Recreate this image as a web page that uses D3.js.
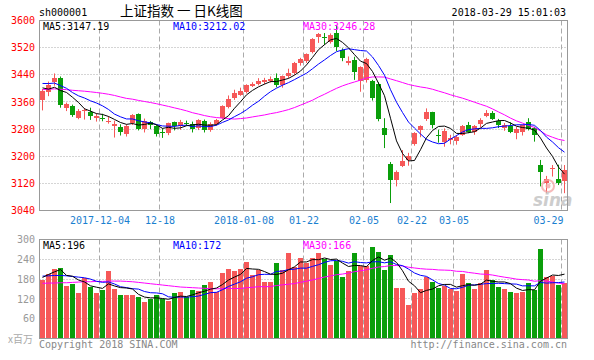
<!DOCTYPE html>
<html><head><meta charset="utf-8">
<script src="https://cdn.jsdelivr.net/npm/d3@7"></script>
<style>body{margin:0;background:#fff}svg{display:block}</style>
</head><body>
<svg id="c" width="594" height="360"></svg>
<script>
const dates = ["2017-11-20","2017-11-21","2017-11-22","2017-11-23","2017-11-24","2017-11-27","2017-11-28","2017-11-29","2017-11-30",
"2017-12-01","2017-12-04","2017-12-05","2017-12-06","2017-12-07","2017-12-08","2017-12-11","2017-12-12","2017-12-13","2017-12-14","2017-12-15",
"2017-12-18","2017-12-19","2017-12-20","2017-12-21","2017-12-22","2017-12-25","2017-12-26","2017-12-27","2017-12-28","2017-12-29",
"2018-01-02","2018-01-03","2018-01-04","2018-01-05","2018-01-08","2018-01-09","2018-01-10","2018-01-11","2018-01-12","2018-01-15",
"2018-01-16","2018-01-17","2018-01-18","2018-01-19","2018-01-22","2018-01-23","2018-01-24","2018-01-25","2018-01-26","2018-01-29",
"2018-01-30","2018-01-31","2018-02-01","2018-02-02","2018-02-05","2018-02-06","2018-02-07","2018-02-08","2018-02-09","2018-02-12",
"2018-02-13","2018-02-14","2018-02-22","2018-02-23","2018-02-26","2018-02-27","2018-02-28","2018-03-01","2018-03-02","2018-03-05",
"2018-03-06","2018-03-07","2018-03-08","2018-03-09","2018-03-12","2018-03-13","2018-03-14","2018-03-15","2018-03-16","2018-03-19",
"2018-03-20","2018-03-21","2018-03-22","2018-03-23","2018-03-26","2018-03-27","2018-03-28","2018-03-29"];

const open = [3366,3388,3419,3430,3341,3349,3314,3334,3329,3314, 3312,3300,3289,3287,3265,3297,3324,3280,3300,3289,
3270,3268,3300,3290,3299,3296,3282,3304,3277,3294, 3312,3346,3373,3381,3390,3408,3414,3418,3421,3430,
3410,3437,3446,3474,3480,3508,3552,3552,3538,3563, 3513,3475,3484,3422,3425,3422,3414,3282,3177,3129,
3172,3189,3235,3277,3309,3329,3262,3243,3248,3245, 3263,3291,3272,3294,3320,3327,3303,3282,3290,3268,
3270,3300,3282,3174,3120,3163,3132,3128];
const high = [3398,3420,3444,3435,3358,3352,3339,3342,3343,3326, 3325,3318,3305,3294,3294,3324,3326,3311,3304,3292,
3282,3299,3302,3307,3305,3302,3309,3308,3300,3310, 3350,3379,3396,3402,3412,3418,3430,3431,3435,3444,
3438,3458,3478,3490,3503,3548,3563,3563,3562,3587, 3518,3494,3493,3465,3490,3425,3418,3312,3183,3158,
3218,3210,3271,3291,3341,3331,3278,3282,3263,3262, 3292,3301,3292,3312,3336,3333,3310,3298,3300,3287,
3293,3312,3287,3189,3142,3174,3175,3174];
const low = [3335,3377,3408,3343,3333,3316,3309,3308,3307,3302, 3303,3296,3255,3261,3258,3292,3276,3270,3280,3258,
3254,3262,3276,3278,3290,3270,3277,3270,3272,3290, 3310,3341,3366,3378,3385,3404,3409,3412,3417,3403,
3402,3430,3440,3467,3475,3503,3534,3528,3532,3510, 3480,3468,3425,3390,3417,3364,3303,3224,3062,3111,
3168,3172,3231,3256,3304,3282,3240,3228,3235,3234, 3260,3268,3263,3285,3315,3307,3283,3275,3268,3250,
3261,3276,3243,3111,3091,3140,3115,3091];
const close = [3392.8,3410.5,3430.5,3351.9,3353.8,3322.2,3333.7,3337.5,3317.2,3317.6,
3309.6,3303.7,3294.0,3272.1,3290.0,3322.2,3280.8,3303.0,3292.4,3266.1,
3267.9,3296.5,3287.6,3300.1,3297.1,3280.5,3306.1,3275.8,3296.4,3307.2,
3348.3,3369.1,3385.7,3391.8,3409.5,3413.9,3421.8,3425.3,3428.9,3410.5,
3436.6,3444.7,3474.8,3487.9,3501.4,3546.5,3559.5,3548.3,3558.1,3523.0,
3488.0,3480.8,3447.0,3462.1,3487.5,3370.7,3309.3,3262.1,3129.9,3154.1,
3185.0,3199.2,3268.6,3289.0,3329.6,3292.1,3259.4,3273.8,3254.5,3256.9,
3289.6,3271.7,3288.4,3307.2,3326.7,3310.2,3291.4,3291.1,3269.9,3279.3,
3290.6,3281.0,3263.5,3152.8,3133.7,3166.7,3122.3,3160.5];

const ma5 = [3401.4,3397.6,3403.2,3393.7,3387.9,3373.8,3358.4,3339.8,3332.9,3325.6,
3323.1,3317.1,3308.4,3299.4,3293.9,3296.4,3291.8,3293.6,3297.7,3292.9,
3282.0,3285.2,3282.1,3283.6,3289.8,3292.4,3294.3,3291.9,3291.2,3293.2,
3306.8,3319.4,3341.3,3360.4,3380.9,3394.0,3404.5,3412.5,3419.9,3420.1,
3424.6,3429.2,3439.1,3450.9,3469.1,3491.1,3514.0,3528.7,3542.8,3547.1,
3535.4,3519.6,3499.4,3480.2,3473.1,3449.6,3415.3,3378.3,3311.9,3245.2,
3208.1,3186.1,3187.4,3219.2,3254.3,3275.7,3287.7,3288.8,3281.9,3267.3,
3266.8,3269.3,3272.2,3282.8,3296.7,3300.8,3304.8,3305.3,3297.9,3288.4,
3284.5,3282.4,3276.9,3253.4,3224.3,3199.5,3167.8,3147.2];
const ma10 = [3414.5,3414.1,3415.6,3408.1,3400.2,3387.6,3378.0,3371.5,3363.3,3356.8,
3348.5,3337.8,3324.1,3316.1,3309.8,3309.8,3304.5,3301.0,3298.5,3293.4,
3289.2,3288.5,3287.9,3290.7,3291.4,3287.2,3289.7,3287.0,3287.4,3291.5,
3299.6,3306.8,3316.6,3325.8,3337.0,3350.4,3362.0,3376.9,3390.2,3400.5,
3409.3,3416.9,3425.8,3435.4,3444.6,3457.8,3471.6,3483.9,3496.8,3508.1,
3513.2,3516.8,3514.1,3511.5,3510.1,3492.5,3467.5,3438.9,3396.0,3359.2,
3328.9,3300.7,3282.9,3265.5,3249.8,3241.9,3236.9,3238.1,3250.5,3260.8,
3271.3,3278.5,3280.5,3282.3,3282.0,3283.8,3287.0,3288.8,3290.3,3292.6,
3292.7,3293.6,3291.1,3275.7,3256.4,3242.0,3225.1,3212.0];
const ma30 = [3396.2,3397.1,3398.5,3397.4,3396.2,3394.3,3393.0,3391.6,3389.8,3387.7,
3385.4,3382.6,3379.1,3374.6,3370.4,3368.1,3364.4,3361.3,3358.2,3354.7,
3350.7,3346.8,3342.5,3338.3,3333.8,3328.2,3324.1,3319.8,3316.4,3313.9,
3312.4,3311.0,3309.5,3310.9,3312.7,3315.8,3318.7,3321.6,3325.4,3328.5,
3332.7,3337.4,3343.4,3350.6,3357.7,3365.1,3374.4,3382.6,3391.5,3400.0,
3407.4,3413.5,3418.8,3424.2,3430.6,3433.6,3433.7,3433.2,3427.7,3422.6,
3417.1,3411.5,3407.6,3404.1,3401.5,3397.4,3392.0,3386.9,3381.1,3376.0,
3371.1,3365.3,3359.1,3353.1,3347.3,3339.4,3330.5,3321.9,3312.3,3304.2,
3297.6,3290.9,3284.8,3274.5,3262.7,3255.9,3249.7,3246.3];

const volume = [177,194,212,215,158,164,137,183,156,137, 146,206,151,131,131,131,125,110,119,131,
121,113,137,140,125,146,144,161,172,141, 200,212,206,212,232,191,207,172,172,229,
209,260,216,245,230,245,258,242,222,236, 185,206,258,220,219,278,261,208,254,152,
152,102,139,149,187,172,152,159,150,145, 195,167,149,167,207,177,157,149,141,139,
142,169,147,272,185,189,162,167];
const volMa5 = [185,194,202,209,191.2,188.6,177.2,171.4,159.6,155.4,
151.8,165.6,159.2,154.2,153.0,150.0,133.8,125.6,123.2,123.2,
121.2,118.8,124.2,128.4,127.2,132.2,138.4,143.2,149.6,152.8,
163.6,177.2,186.2,194.2,212.4,210.6,209.6,202.8,194.8,194.2,
197.8,208.4,217.2,231.8,232.0,239.2,238.8,244.0,239.4,240.6,
228.6,218.2,221.4,221.0,217.6,236.2,247.2,237.2,244.0,230.6,
205.4,173.6,159.8,138.8,145.8,149.8,159.8,163.8,164.0,155.6,
160.2,163.2,161.2,164.6,177.0,173.4,171.4,171.4,166.2,152.6,
145.6,148.0,147.6,173.8,183.0,192.4,191.0,195.0];
const volMa10 = [189,190,191,191,190,188,186,184,180,173.3,
170.2,171.4,165.3,156.9,154.2,150.9,149.7,142.4,138.7,138.1,
135.6,126.3,124.9,125.8,125.2,126.7,128.6,133.7,139.0,140.0,
147.9,157.8,164.7,171.9,182.6,187.1,193.4,194.5,194.5,203.3,
204.2,209.0,210.0,213.3,213.1,218.5,223.6,230.6,235.6,236.3,
233.9,228.5,232.7,230.2,229.1,232.4,232.7,229.3,232.5,224.1,
220.8,210.4,198.5,191.4,188.2,177.6,166.7,161.8,151.4,150.7,
155.0,161.5,162.5,164.3,166.3,166.8,167.3,166.3,165.4,164.8,
159.5,159.7,159.5,170.0,167.8,169.0,169.5,171.3];
const volMa30 = [167,168,168,169,169,170,171,172,172,173,
173,174,174,174,173,172,170,168,166,164,
162,160,158,156,155,154,153,152,151,150.5,
151.2,151.8,151.6,151.5,154.0,154.9,157.2,156.9,157.4,160.5,
162.6,164.4,166.5,170.3,173.6,177.4,181.9,186.3,189.7,193.2,
195.3,198.4,202.5,205.1,208.3,212.7,216.6,218.1,220.9,221.2,
219.6,216.0,213.7,211.6,210.1,209.5,207.7,207.2,206.5,203.7,
203.2,200.1,197.9,195.3,194.5,192.3,188.9,185.8,183.1,179.9,
178.4,177.2,173.5,175.2,174.1,171.1,167.8,166.5];

const priceTicks = [3040,3120,3200,3280,3360,3440,3520,3600];
const volTicks = [60,120,180,240,300];
const xTickDates = ["2017-12-04","2017-12-18","2018-01-08","2018-01-22","2018-02-05","2018-02-22","2018-03-05","2018-03-29"];
const xTickLabels = ["2017-12-04","12-18","2018-01-08","01-22","02-05","02-22","03-05","03-29"];
const legendPrice = [["MA5:3147.19","#000"],["MA10:3212.02","#0000ff"],["MA30:3246.28","#ff00ff"]];
const legendVol = [["MA5:196","#000"],["MA10:172","#0000ff"],["MA30:166","#ff00ff"]];

const RED = "#f65858", GREEN = "#0a9e0a", GRID = "#aaaaaa", BORDER = "#999999";
const MONO = "'DejaVu Sans Mono', monospace";
const L = 39.5, R = 567.5;

const svg = d3.select("#c");
const x = d3.scaleBand().domain(dates).range([40, 568]).padding(0);
const yP = d3.scaleLinear().domain([3040, 3600]).range([210.5, 20.5]);
const yV = d3.scaleLinear().domain([0, 300]).range([338.5, 239.5]);
const cx = d => x(d) + 2.5;
const px = v => Math.round(v - 0.5) + 0.5;

// header
svg.append("text").attr("x", 39).attr("y", 16).attr("font-family", MONO).attr("font-size", 10).text("sh000001");
svg.append("text").attr("x", 120).attr("y", 16).attr("font-family", "'Noto Sans CJK SC', sans-serif").attr("font-size", 13.5).text("上证指数 一 日K线图");
svg.append("text").attr("x", 566).attr("y", 16).attr("text-anchor", "end").attr("font-family", MONO).attr("font-size", 10).text("2018-03-29 15:01:03");

function panel(y0, y1, hTicks, yScale) {
  const g = svg.append("g");
  g.selectAll(".h").data(hTicks).join("line")
    .attr("x1", L).attr("x2", R).attr("y1", d => px(yScale(d))).attr("y2", d => px(yScale(d)))
    .attr("stroke", GRID).attr("stroke-dasharray", "1,2");
  g.selectAll(".v").data(xTickDates).join("line")
    .attr("x1", d => x(d) - 0.5).attr("x2", d => x(d) - 0.5).attr("y1", y0).attr("y2", y1)
    .attr("stroke", GRID).attr("stroke-dasharray", "5,3");
  return g;
}
panel(20.5, 210.5, [3120,3200,3280,3360,3440,3520], yP);
panel(239.5, 338.5, [60,120,180,240], yV);

// candles
const cg = svg.append("g");
dates.forEach((d, i) => {
  const up = close[i] >= open[i];
  const col = up ? RED : GREEN;
  cg.append("line").attr("x1", cx(d)).attr("x2", cx(d))
    .attr("y1", yP(high[i])).attr("y2", yP(low[i])).attr("stroke", col);
  const yt = Math.round(yP(Math.max(open[i], close[i])));
  const yb = Math.round(yP(Math.min(open[i], close[i])));
  cg.append("rect").attr("x", x(d)).attr("width", x.bandwidth() - 1)
    .attr("y", yt).attr("height", Math.max(1, yb - yt)).attr("fill", col);
});

// volume bars
svg.append("g").selectAll("rect").data(dates).join("rect")
  .attr("x", d => x(d)).attr("width", x.bandwidth() - 1)
  .attr("y", (d, i) => Math.round(yV(volume[i]))).attr("height", (d, i) => 338.5 - Math.round(yV(volume[i])) + 0.5)
  .attr("fill", (d, i) => close[i] >= open[i] ? RED : GREEN);

// MA lines
function maLine(arr, color, yScale) {
  const line = d3.line().x((v, i) => cx(dates[i])).y(v => yScale(v));
  svg.append("path").attr("d", line(arr)).attr("fill", "none").attr("stroke", color).attr("stroke-width", 1);
}
maLine(ma30, "#ff00ff", yP); maLine(ma10, "#0000ff", yP); maLine(ma5, "#000000", yP);
maLine(volMa30, "#ff00ff", yV); maLine(volMa10, "#0000ff", yV); maLine(volMa5, "#000000", yV);

// watermark
const wm = svg.append("g").attr("opacity", 0.75);
wm.append("circle").attr("cx", 548).attr("cy", 186).attr("r", 6).attr("fill", "none").attr("stroke", "#f4a4a4").attr("stroke-width", 2);
wm.append("circle").attr("cx", 548).attr("cy", 186).attr("r", 2.5).attr("fill", "#f4a4a4");
wm.append("text").attr("x", 533).attr("y", 206).attr("font-family", "'DejaVu Sans', sans-serif").attr("font-style", "italic").attr("font-weight", "bold").attr("font-size", 17).attr("fill", "#bdbdbd").text("sina");

// borders
svg.append("rect").attr("x", L).attr("y", 20.5).attr("width", R - L).attr("height", 190).attr("fill", "none").attr("stroke", BORDER);
svg.append("rect").attr("x", L).attr("y", 239.5).attr("width", R - L).attr("height", 99).attr("fill", "none").attr("stroke", BORDER);

// axes labels
const yAxisP = d3.axisLeft(yP).tickValues(priceTicks).tickSize(0).tickPadding(0).tickFormat(d3.format("d"));
const gp = svg.append("g").attr("transform", "translate(35,0)").call(yAxisP);
gp.select(".domain").remove();
gp.selectAll("text").attr("fill", "#ff0000").attr("font-family", MONO).attr("font-size", 10);

const yAxisV = d3.axisLeft(yV).tickValues(volTicks).tickSize(0).tickPadding(0).tickFormat(d3.format("d"));
const gv = svg.append("g").attr("transform", "translate(35,0)").call(yAxisV);
gv.select(".domain").remove();
gv.selectAll("text").attr("fill", "#999999").attr("font-family", MONO).attr("font-size", 10);

const xAxis = d3.axisBottom(x).tickValues(xTickDates).tickSize(0).tickPadding(0)
  .tickFormat((d, i) => xTickLabels[i]);
const gx = svg.append("g").attr("transform", "translate(-3,217)").call(xAxis);
gx.select(".domain").remove();
gx.selectAll("text").attr("fill", "#1a80d0").attr("font-family", MONO).attr("font-size", 10)
  .attr("text-anchor", (d, i) => i === xTickDates.length - 1 ? "end" : "middle")
  .attr("dx", (d, i) => i === xTickDates.length - 1 ? 1.5 : 0);

// legends
legendPrice.forEach((l, i) => svg.append("text").attr("x", 43 + 130 * i).attr("y", 30).attr("font-family", MONO).attr("font-size", 10).attr("fill", l[1]).text(l[0]));
legendVol.forEach((l, i) => svg.append("text").attr("x", 43 + 130 * i).attr("y", 249).attr("font-family", MONO).attr("font-size", 10).attr("fill", l[1]).text(l[0]));

// footer
svg.append("text").attr("x", 8).attr("y", 343).attr("font-family", "'Noto Sans CJK SC', sans-serif").attr("font-size", 10).attr("fill", "#aaaaaa").text("x百万");
svg.append("text").attr("x", 39).attr("y", 348).attr("font-family", MONO).attr("font-size", 10).attr("fill", "#888888").text("Copyright 2018 SINA.COM");
svg.append("text").attr("x", 567).attr("y", 348).attr("text-anchor", "end").attr("font-family", MONO).attr("font-size", 10).attr("fill", "#888888").text("http://finance.sina.com.cn");
</script>
</body></html>
